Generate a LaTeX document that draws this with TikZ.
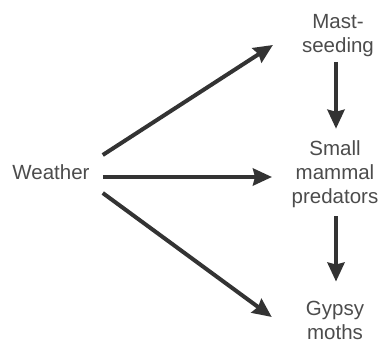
\documentclass[tikz,border=0pt]{standalone}
\usepackage{fontspec}
\setmainfont{Liberation Sans}
\usetikzlibrary{arrows.meta}

\begin{document}
\begin{tikzpicture}[x=1pt,y=-1pt,>={Stealth[length=19pt,width=17pt,inset=2pt]},
  lbl/.style={inner sep=0pt,align=center,text=black!70,
    font=\fontsize{20.5pt}{24pt}\selectfont},
  arr/.style={->,line width=4pt,draw=black!80}]
 \useasboundingbox (0,0) rectangle (380,343);
 \node[lbl] (weather) at (51,172.5) {Weather};
 \node[lbl] (mast) at (338,35.5) {Mast-\\seeding};
 \node[lbl] (predators) at (335,174.5) {Small\\mammal\\predators};
 \node[lbl] (moths) at (335,320) {Gypsy\\moths};
 \draw[arr] ([shift={(13,-17.5)}]weather.east) -- ([shift={(-29,9.5)}]mast.west);
 \draw[arr] ([shift={(13,4.5)}]weather.east) -- ([shift={(-19.5,2.5)}]predators.west);
 \draw[arr] ([shift={(13,20.5)}]weather.east) -- ([shift={(-34,-3)}]moths.west);
 \draw[arr] ([shift={(-2,5)}]mast.south) -- ([shift={(1,-12)}]predators.north);
 \draw[arr] ([shift={(1,8)}]predators.south) -- ([shift={(1,-19)}]moths.north);
\end{tikzpicture}
\end{document}
